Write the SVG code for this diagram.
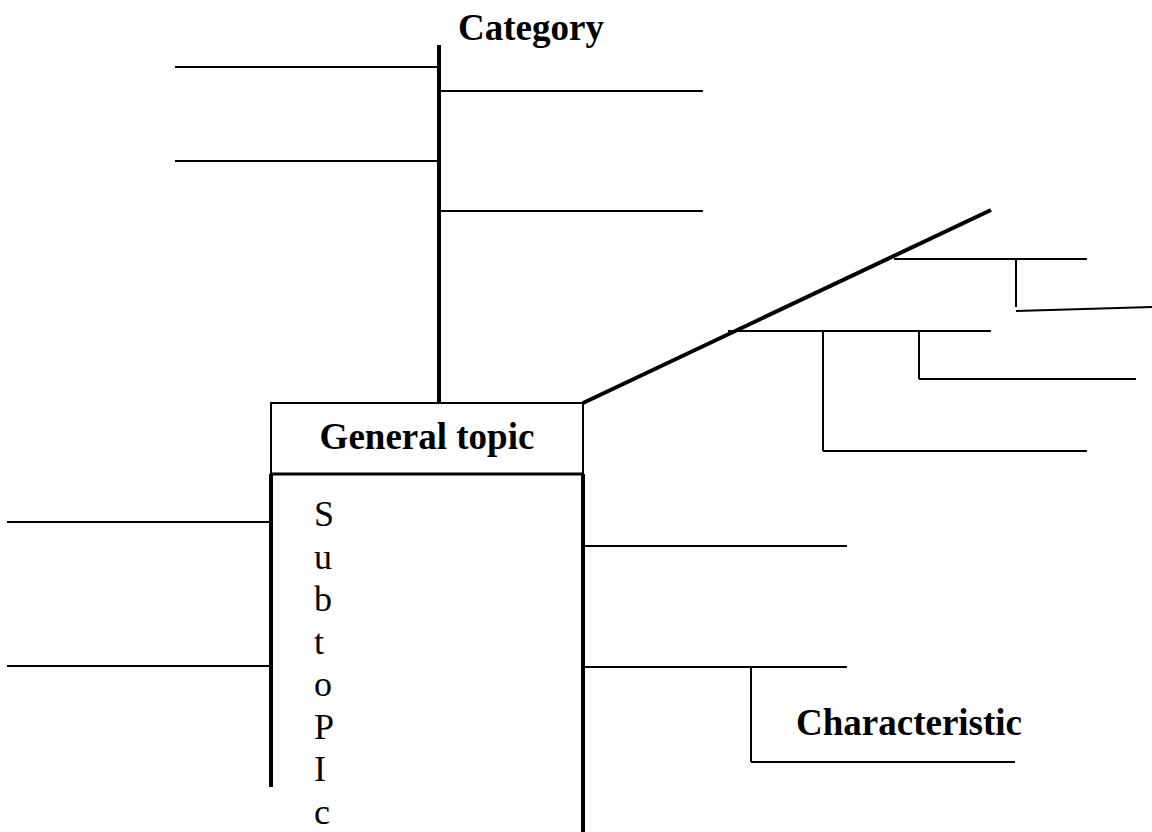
<svg xmlns="http://www.w3.org/2000/svg" width="1152" height="832" viewBox="0 0 1152 832">
<style>
.thin{stroke:#000;stroke-width:2;fill:none}
.thick{stroke:#000;stroke-width:4;fill:none}
.bold{font-family:"Liberation Serif","Times New Roman",serif;font-weight:bold;font-size:37px;fill:#000}
.reg{font-family:"Liberation Serif","Times New Roman",serif;font-size:36px;fill:#000}
</style>
<rect width="1152" height="832" fill="#fff"/>
<g id="category">
<text class="bold" x="458" y="40">Category</text>
</g>
<g id="general-topic">
<rect class="thin" x="271" y="403" width="312" height="71"/>
<text class="bold" x="427" y="449" text-anchor="middle">General topic</text>
</g>
<g id="subtopic">
<line class="thick" x1="271" y1="474" x2="583" y2="474" style="stroke-width:3"/>
<line class="thick" x1="271" y1="474" x2="271" y2="787"/>
<line class="thick" x1="583" y1="474" x2="583" y2="832"/>
<text class="reg" x="314" y="526">S</text>
<text class="reg" x="314" y="568.5">u</text>
<text class="reg" x="314" y="611">b</text>
<text class="reg" x="314" y="653.5">t</text>
<text class="reg" x="314" y="696">o</text>
<text class="reg" x="314" y="738.5">P</text>
<text class="reg" x="314" y="781">I</text>
<text class="reg" x="314" y="823.5">c</text>
</g>
<g id="characteristic">
<text class="bold" x="796" y="735">Characteristic</text>
</g>
<g id="connectors">
<line class="thick" x1="439" y1="45" x2="439" y2="403"/>
<line class="thin" x1="175" y1="67" x2="439" y2="67"/>
<line class="thin" x1="175" y1="161" x2="439" y2="161"/>
<line class="thin" x1="439" y1="91" x2="703" y2="91"/>
<line class="thin" x1="439" y1="211" x2="703" y2="211"/>
<line class="thick" x1="583" y1="403" x2="991" y2="210"/>
<line class="thin" x1="894" y1="259" x2="1087" y2="259"/>
<line class="thin" x1="1016" y1="259" x2="1016" y2="307"/>
<line class="thin" x1="1016" y1="311" x2="1152" y2="307"/>
<line class="thin" x1="728" y1="331" x2="991" y2="331"/>
<line class="thin" x1="823" y1="331" x2="823" y2="451"/>
<line class="thin" x1="823" y1="451" x2="1087" y2="451"/>
<line class="thin" x1="919" y1="331" x2="919" y2="379"/>
<line class="thin" x1="919" y1="379" x2="1136" y2="379"/>
<line class="thin" x1="7" y1="522" x2="271" y2="522"/>
<line class="thin" x1="7" y1="666" x2="271" y2="666"/>
<line class="thin" x1="583" y1="546" x2="847" y2="546"/>
<line class="thin" x1="583" y1="667" x2="847" y2="667"/>
<line class="thin" x1="751" y1="667" x2="751" y2="762"/>
<line class="thin" x1="751" y1="762" x2="1015" y2="762"/>
</g>
</svg>
